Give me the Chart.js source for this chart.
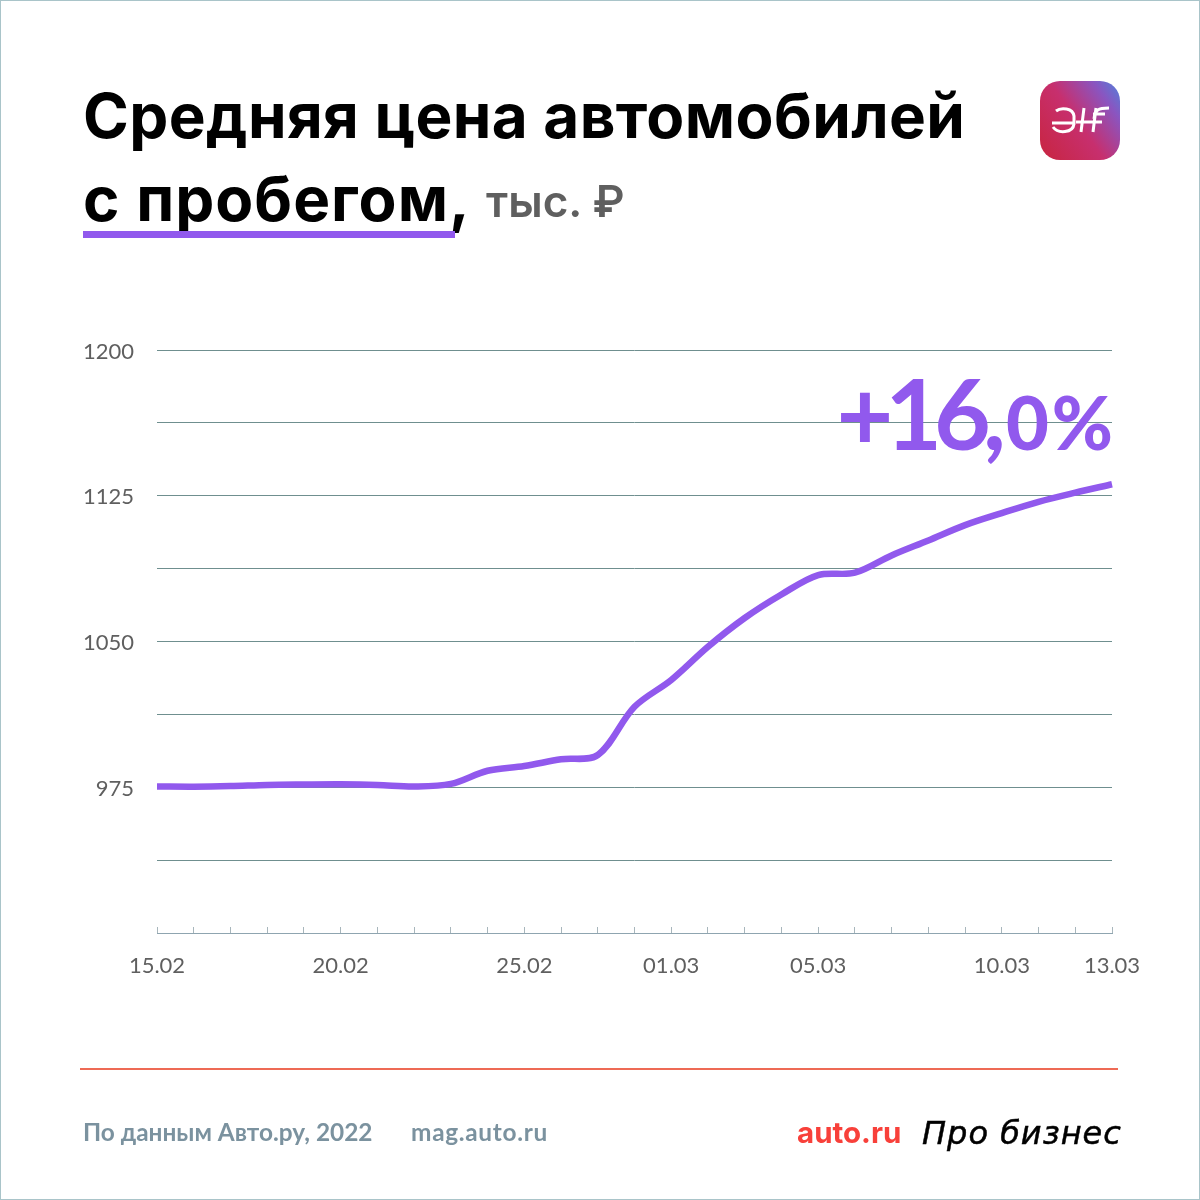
<!DOCTYPE html>
<html lang="ru">
<head>
<meta charset="utf-8">
<title>Средняя цена автомобилей с пробегом</title>
<script src="https://cdn.jsdelivr.net/npm/chart.js@4"></script>
<style>
  html, body { margin: 0; padding: 0; background: #fff; }
  #page { position: relative; width: 1200px; height: 1200px; overflow: hidden; font-family: Lato, sans-serif; box-sizing: border-box; }
  #frame { position: absolute; left: 0; top: 0; width: 1200px; height: 1200px; box-sizing: border-box; border: 1px solid #a9c4c9; pointer-events: none; }
  #myChart { position: absolute; left: 0; top: 0; }
  .abs { position: absolute; white-space: nowrap; }
  .title { font-family: Inter, sans-serif; font-weight: 700; font-size: 62px; line-height: 62px; color: #000; }
  #unit { left: 486px; top: 176px; font-family: Inter, sans-serif; font-weight: 600; font-size: 44px; line-height: 50px; color: #5f5f5f; }
  #underline { left: 83px; top: 231px; width: 372px; height: 7px; background: #9159ed; }
  #growth { right: 87px; top: 357px; font-family: Lato, sans-serif; font-weight: 700; color: #9159ed; line-height: 110px; }
  #growth .big { font-size: 98px; letter-spacing: -8px; }
  #growth .small { font-size: 74px; font-weight: 900; letter-spacing: 3px; margin-right: -3px; margin-left: 8px; }
  #rule { left: 80px; top: 1068px; width: 1038px; height: 2px; background: #ee6a55; }
  .foot { top: 1117px; font-size: 24.4px; line-height: 30px; font-weight: 700; color: #7b929f; }
  #autoru { left: 797px; top: 1114px; font-family: Inter, sans-serif; font-weight: 700; font-size: 29.5px; line-height: 36px; color: #f8403a; }
  #probiz { left: 922px; top: 1115px; font-family: "DejaVu Sans", sans-serif; font-style: italic; font-size: 32px; letter-spacing: 1px; line-height: 36px; color: #000; -webkit-text-stroke: 0.5px #000; }
  #logo { left: 1040px; top: 81px; width: 80px; height: 79px; border-radius: 20px; background: linear-gradient(55deg, #c8253f 0%, #c72f6e 48%, #8a55c0 80%, #4f82dc 100%); }
</style>
</head>
<body>
<div id="page">
  <canvas id="myChart" width="1200" height="1200"></canvas>
  <div class="abs title" style="left:83px;top:85px;letter-spacing:0.4px">Средняя цена автомобилей</div>
  <div class="abs title" style="left:83px;top:168px;letter-spacing:1px">с пробегом,</div>
  <div class="abs" id="unit">тыс. ₽</div>
  <div class="abs" id="underline"></div>
  <div class="abs" id="growth"><span class="big">+16,</span><span class="small">0%</span></div>
  <div class="abs" id="rule"></div>
  <div class="abs foot" style="left:83px">По данным Авто.ру, 2022</div>
  <div class="abs foot" style="left:411px;letter-spacing:0.7px">mag.auto.ru</div>
  <div class="abs" id="autoru">auto.ru</div>
  <div class="abs" id="probiz">Про бизнес</div>
  <div class="abs" id="logo">
    <svg width="80" height="79" viewBox="0 0 80 79" fill="none" stroke="#fff" stroke-width="3">
      <path d="M12 42h22M16 30c5-4 17-3 18 5v8c-1 9-16 10-21 3"/>
      <path d="M44 27l-3 24M56 27l-3 24M36 41h26M54 38c1-9 4-11 15-11M53 33h12"/>
    </svg>
  </div>
  <div class="abs" id="frame"></div>
</div>
<script>
var dates = ["15.02","16.02","17.02","18.02","19.02","20.02","21.02","22.02","23.02","24.02","25.02","26.02","27.02","28.02","01.03","02.03","03.03","04.03","05.03","06.03","07.03","08.03","09.03","10.03","11.03","12.03","13.03"];
var xTickLabels = ["15.02","20.02","25.02","01.03","05.03","10.03","13.03"];
var yTickLabels = [975, 1050, 1125, 1200];
var prices = [975.4,975.3,975.6,976.2,976.4,976.5,976.2,975.4,976.7,983.5,985.9,989.4,991.6,1016.4,1030.2,1047.3,1062.1,1074.2,1084.2,1085.4,1094.3,1102,1109.9,1116.1,1121.9,1126.6,1130.9];

var chart = new Chart(document.getElementById("myChart"), {
   type: 'line',
   data: {
      labels: dates,
      datasets: [
         {
            label: "Средняя цена, тыс. ₽",
            data: prices,
            borderColor: "#9159ed",
            borderWidth: 6.5,
            pointRadius: 0,
            tension: 0.33,
            fill: false,
            clip: false
         }
      ]
   },
   options: {
      responsive: false,
      animation: false,
      devicePixelRatio: 1,
      layout: { padding: { top: 350, right: 88, left: 0, bottom: 0 } },
      plugins: { legend: { display: false }, tooltip: { enabled: false } },
      scales: {
         x: {
            offset: false,
            afterFit: function (scale) { scale.height = 267; },
            border: { color: "#8fa5b0", width: 1 },
            grid: { drawOnChartArea: false, tickLength: -6, tickWidth: 1, tickColor: "#a8b6bc" },
            ticks: {
               autoSkip: false,
               maxRotation: 0,
               padding: 26,
               color: "#5f5f5f",
               font: { family: "Lato", size: 22 },
               callback: function (value) {
                  var label = this.getLabelForValue(value);
                  return xTickLabels.indexOf(label) >= 0 ? label : "";
               }
            }
         },
         y: {
            min: 900,
            max: 1200,
            afterFit: function (scale) { scale.width = 157; },
            border: { display: false },
            grid: { color: "#6f8f8f", lineWidth: 1, drawTicks: false },
            ticks: {
               stepSize: 37.5,
               padding: 23,
               labelOffset: 1.5,
               color: "#5f5f5f",
               font: { family: "Lato", size: 22 },
               callback: function (value) {
                  return yTickLabels.indexOf(value) >= 0 ? value : "";
               }
            }
         }
      }
   }
});
</script>
</body>
</html>
